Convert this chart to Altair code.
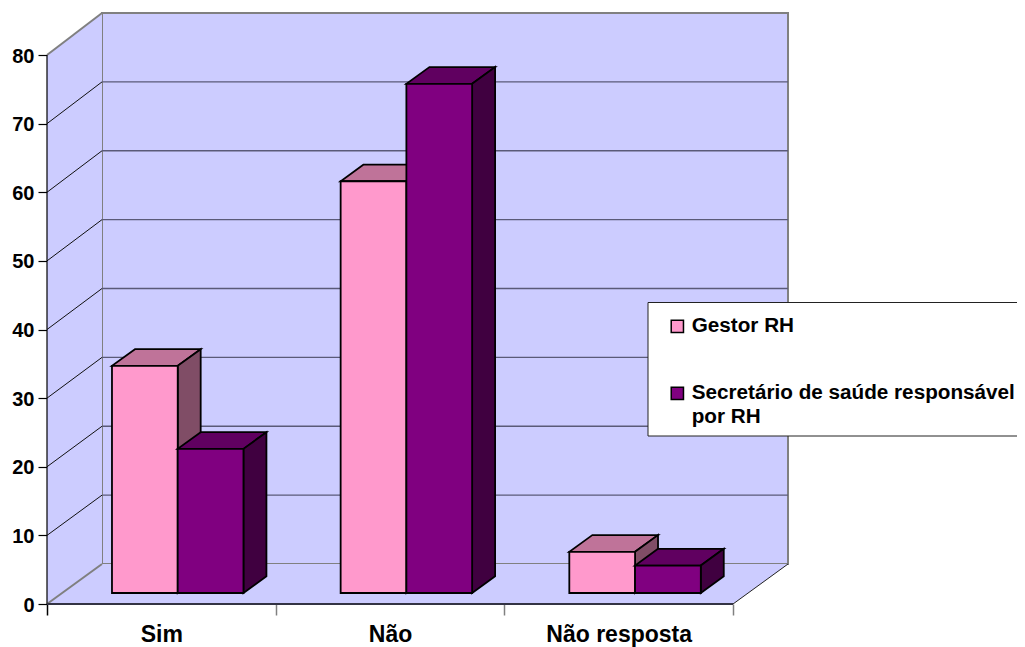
import altair as alt
import pandas as pd

categories = ["Sim", "Não", "Não resposta"]
series_names = ["Gestor RH", "Secretário de saúde responsável|por RH"]
gestor = [33.1, 60.0, 6.0]
secretario = [21.0, 74.2, 4.0]
y_ticks = [0, 10, 20, 30, 40, 50, 60, 70, 80]

FONT = "Liberation Sans"
WALL = "#CCCCFF"
GREY = "#808080"
FRONT = ["#FF99CC", "#800080"]
TOP = ["#BF7399", "#600060"]
SIDE = ["#804D66", "#400040"]

PX_CAT = 228.67
PX_VAL = 6.8625
W, H = 970, 591
XMAX = W / PX_CAT
YMAX = H / PX_VAL
DX = 55 / PX_CAT      # full depth of the box in x units
DY = 40 / PX_VAL      # full depth of the box in value units
BACK = 1.0036         # back wall stretch
GAP = 0.218
BAR_W = 0.2875
D0, D1 = 0.275, 0.6925

xs = alt.Scale(domain=[0, XMAX], nice=False, zero=False)
ys = alt.Scale(domain=[0, YMAX], nice=False, zero=False)

ncat = len(categories)
x_axis_vals = [i / 2 for i in range(2 * ncat + 1)]
label_map = ",".join(
    f"'{i + 0.5}':'{c}'" for i, c in enumerate(categories)
)
x_axis = alt.Axis(
    values=x_axis_vals, domain=False, grid=False, tickSize=11, tickWidth=1.5,
    tickColor={"condition": {"test": "datum.value == 0", "value": "black"}, "value": GREY},
    tickOpacity={"condition": {"test": "datum.value % 1 == 0", "value": 1}, "value": 0},
    labelExpr="({" + label_map + "})[datum.value] || ''",
    labelFont=FONT, labelFontSize=23, labelFontWeight="bold", labelColor="black",
    labelPadding=8.5, labelOverlap=False, labelFlush=False, labelBound=False, title=None,
)
y_axis = alt.Axis(
    values=y_ticks, domain=False, grid=False, tickSize=9, tickWidth=1.2, tickColor="black",
    labelFont=FONT, labelFontSize=20, labelFontWeight="bold", labelColor="black",
    labelPadding=4, labelOffset=1, labelOverlap=False, labelBound=False, title=None,
)


def X():
    return alt.X("x:Q", scale=xs, axis=x_axis, title=None)


def Y():
    return alt.Y("y:Q", scale=ys, axis=y_axis, title=None)


def back_y(v):
    return v * BACK + DY


xr = ncat  # right end of the front floor edge

# back wall
wall = alt.Chart(pd.DataFrame([{"x": DX, "x2": xr + DX, "y": back_y(0), "y2": back_y(80)}])).mark_rect(
    fill=WALL, stroke=GREY, strokeWidth=2
).encode(x=X(), x2="x2:Q", y=Y(), y2="y2:Q")

# left wall
left_wall = alt.Chart(pd.DataFrame([
    {"x": 0, "y": 0, "y2": 80},
    {"x": DX, "y": back_y(0), "y2": back_y(80)},
])).mark_area(fill=WALL, orient="vertical").encode(x=X(), y=Y(), y2="y2:Q")

# floor
floor = alt.Chart(pd.DataFrame([
    {"y": 0, "x": 0, "x2": xr},
    {"y": back_y(0), "x": DX, "x2": xr + DX},
])).mark_area(fill=WALL, orient="horizontal").encode(y=Y(), x=X(), x2="x2:Q")

# back wall gridlines
grid_back = alt.Chart(pd.DataFrame([
    {"x": DX, "x2": xr + DX, "y": back_y(v)} for v in y_ticks[1:-1]
])).mark_rule(color="#5A5A78", strokeWidth=1.4).encode(x=X(), x2="x2:Q", y=Y())

# slanted lines on the left wall
slant_rows = []
for v in y_ticks[1:-1]:
    slant_rows += [{"x": 0, "y": v, "g": v}, {"x": DX, "y": back_y(v), "g": v}]
grid_slant = alt.Chart(pd.DataFrame(slant_rows)).mark_line(color="#111111", strokeWidth=1).encode(
    x=X(), y=Y(), detail="g:N"
)

# grey edges of the box
edge_rows = [
    {"x": 0, "y": 80, "g": "top"}, {"x": DX, "y": back_y(80), "g": "top"},
    {"x": 0, "y": 0, "g": "floor"}, {"x": DX, "y": back_y(0), "g": "floor"},
]
grey_edges = alt.Chart(pd.DataFrame(edge_rows)).mark_line(color=GREY, strokeWidth=2).encode(
    x=X(), y=Y(), detail="g:N"
)
right_edge = alt.Chart(pd.DataFrame([
    {"x": xr, "y": 0}, {"x": xr + DX, "y": back_y(0)},
])).mark_line(color="#222222", strokeWidth=1).encode(x=X(), y=Y())

# front axis lines
y_line = alt.Chart(pd.DataFrame([{"x": 0, "y": 0, "y2": 80}])).mark_rule(
    color="black", strokeWidth=1.2
).encode(x=X(), y=Y(), y2="y2:Q")
x_line = alt.Chart(pd.DataFrame([{"x": 0, "x2": xr, "y": 0}])).mark_rule(
    color="#333344", strokeWidth=2
).encode(x=X(), x2="x2:Q", y=Y())

# legend panel, which runs off the right edge of the picture
legend_box = alt.Chart(pd.DataFrame([{
    "x": 601 / PX_CAT, "x2": XMAX + 0.1, "y": 301.5 / PX_VAL, "y2": 168 / PX_VAL,
}])).mark_rect(fill="white", stroke="#222222", strokeWidth=1).encode(
    x=X(), x2="x2:Q", y=Y(), y2="y2:Q"
)


def bar_layers(si, values):
    top_rows, side_rows, front_rows = [], [], []
    for c, v in enumerate(values):
        l = c + GAP + si * BAR_W
        r = l + BAR_W
        top_rows += [
            {"c": c, "y": v + D0 * DY, "x": l + D0 * DX, "x2": r + D0 * DX},
            {"c": c, "y": v + D1 * DY, "x": l + D1 * DX, "x2": r + D1 * DX},
        ]
        side_rows += [
            {"c": c, "x": r + D0 * DX, "y": D0 * DY, "y2": v + D0 * DY},
            {"c": c, "x": r + D1 * DX, "y": D1 * DY, "y2": v + D1 * DY},
        ]
        front_rows.append({
            "x": l + D0 * DX, "x2": r + D0 * DX, "y": D0 * DY, "y2": v + D0 * DY,
            "series": series_names[si],
        })
    top = alt.Chart(pd.DataFrame(top_rows)).mark_area(
        fill=TOP[si], stroke="black", strokeWidth=1.8, orient="horizontal"
    ).encode(y=Y(), x=X(), x2="x2:Q", detail="c:N")
    side = alt.Chart(pd.DataFrame(side_rows)).mark_area(
        fill=SIDE[si], stroke="black", strokeWidth=1.8, orient="vertical"
    ).encode(x=X(), y=Y(), y2="y2:Q", detail="c:N")
    front = alt.Chart(pd.DataFrame(front_rows)).mark_rect(stroke="black", strokeWidth=1.8).encode(
        x=X(), x2="x2:Q", y=Y(), y2="y2:Q",
        color=alt.Color(
            "series:N",
            scale=alt.Scale(domain=series_names, range=FRONT),
            legend=alt.Legend(
                title=None, orient="none", legendX=601, legendY=292, padding=11,
                symbolType="square", symbolSize=150, symbolStrokeColor="black",
                symbolStrokeWidth=1.5, labelFont=FONT, labelFontSize=20.7,
                labelFontWeight="bold", labelColor="black", labelLimit=600,
                labelOffset=4, rowPadding=45, symbolOffset=8,
                labelExpr="split(datum.label, '|')",
            ),
        ),
    )
    return [top, side, front]


layers = [wall, left_wall, floor, grid_back, grid_slant, grey_edges, right_edge, y_line, x_line]
layers += bar_layers(0, gestor)
layers += bar_layers(1, secretario)
layers += [legend_box]

chart = alt.layer(*layers).properties(
    width=W, height=H,
    autosize=alt.AutoSizeParams(type="none"),
    padding={"left": 39, "top": 5, "right": 0, "bottom": 43},
    background="white",
)
chart.config = alt.Config(
    view=alt.ViewConfig(strokeWidth=0),
    style={"guide-label": {"lineHeight": 24}},
)

chart.save("out.html", embed_options={"renderer": "svg", "actions": False})
